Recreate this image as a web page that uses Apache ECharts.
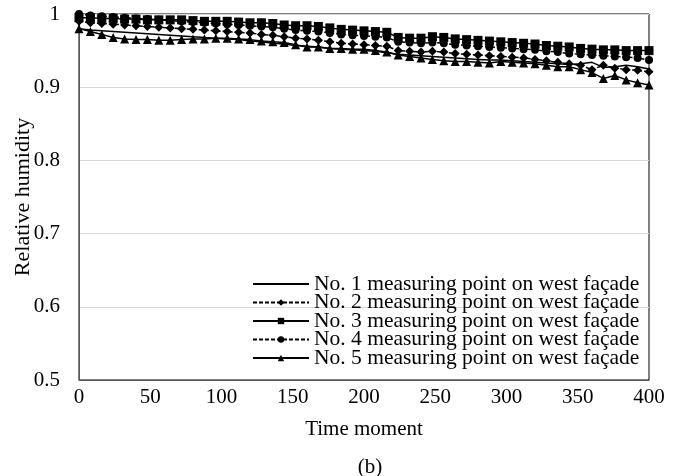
<!DOCTYPE html>
<html>
<head>
<meta charset="utf-8">
<script src="https://cdn.jsdelivr.net/npm/echarts@6/dist/echarts.min.js"></script>
<style>html,body{margin:0;padding:0;background:#fff;}#c{width:677px;height:476px;}</style>
</head>
<body>
<div id="c"></div>
<script>
const times = [0,8,16,24,32,40,48,56,64,72,80,88,96,104,112,120,128,136,144,152,160,168,176,184,192,200,208,216,224,232,240,248,256,264,272,280,288,296,304,312,320,328,336,344,352,360,368,376,384,392,400];
const point1 = [0.98,0.978,0.977,0.976,0.975,0.974,0.973,0.972,0.971,0.97,0.969,0.968,0.967,0.966,0.965,0.963,0.962,0.96,0.959,0.957,0.956,0.955,0.953,0.952,0.951,0.95,0.949,0.947,0.945,0.944,0.943,0.942,0.941,0.94,0.939,0.938,0.937,0.937,0.936,0.935,0.934,0.933,0.932,0.931,0.932,0.934,0.927,0.928,0.93,0.928,0.925];
const point2 = [0.99,0.988,0.987,0.986,0.985,0.984,0.983,0.982,0.981,0.98,0.979,0.978,0.977,0.976,0.975,0.974,0.972,0.971,0.969,0.967,0.966,0.964,0.962,0.96,0.959,0.958,0.957,0.956,0.95,0.949,0.948,0.949,0.948,0.946,0.945,0.944,0.943,0.942,0.941,0.94,0.938,0.936,0.934,0.932,0.93,0.924,0.93,0.926,0.924,0.923,0.921];
const point3 = [0.995,0.995,0.994,0.994,0.993,0.993,0.992,0.992,0.992,0.992,0.991,0.99,0.99,0.99,0.989,0.988,0.988,0.987,0.985,0.984,0.984,0.983,0.981,0.979,0.978,0.977,0.976,0.975,0.968,0.967,0.967,0.969,0.968,0.966,0.965,0.964,0.963,0.962,0.961,0.96,0.959,0.957,0.956,0.955,0.953,0.952,0.951,0.951,0.95,0.95,0.95];
const point4 = [1.0,0.998,0.997,0.996,0.995,0.994,0.993,0.992,0.991,0.99,0.989,0.988,0.987,0.986,0.985,0.984,0.983,0.982,0.98,0.978,0.977,0.976,0.974,0.972,0.971,0.97,0.969,0.968,0.962,0.961,0.96,0.961,0.96,0.958,0.957,0.956,0.955,0.954,0.953,0.952,0.951,0.949,0.948,0.946,0.945,0.944,0.943,0.942,0.941,0.94,0.937];
const point5 = [0.98,0.976,0.972,0.968,0.966,0.965,0.965,0.964,0.964,0.965,0.966,0.966,0.967,0.967,0.966,0.965,0.963,0.962,0.961,0.958,0.955,0.955,0.953,0.953,0.952,0.952,0.95,0.948,0.944,0.942,0.94,0.938,0.936,0.935,0.935,0.934,0.933,0.935,0.934,0.933,0.932,0.93,0.928,0.928,0.924,0.92,0.912,0.916,0.91,0.906,0.903];
const seriesNames = [
  'No. 1 measuring point on west façade',
  'No. 2 measuring point on west façade',
  'No. 3 measuring point on west façade',
  'No. 4 measuring point on west façade',
  'No. 5 measuring point on west façade'
];
const xTicks = [0,50,100,150,200,250,300,350,400];
const yTicks = [0.5,0.6,0.7,0.8,0.9,1];

const FONT = '"Liberation Serif","Times New Roman",serif';
const pair = arr => arr.map((v,i)=>[times[i], v]);
const styles = [
  {symbol:'none', size:0, dash:'solid'},
  {symbol:'diamond', size:9, dash:[4,2]},
  {symbol:'rect', size:9, dash:'solid'},
  {symbol:'circle', size:8, dash:[4,2]},
  {symbol:'triangle', size:9, dash:'solid'}
];
const dataSets = [point1, point2, point3, point4, point5];
const legendRowCenters = [284, 302.5, 321, 339.5, 358];

const legends = seriesNames.map((n,i)=>({
  orient:'horizontal', left:252, top: legendRowCenters[i] - 11,
  itemWidth:56, itemHeight:8, itemGap:0, padding:0,
  textStyle:{fontFamily:FONT, fontSize:21.5, color:'#000'},
  selectedMode:false,
  data:[ i === 0 ? {name:n, itemStyle:{opacity:0}} : {name:n} ]
}));

const chart = echarts.init(document.getElementById('c'), null, {renderer:'canvas'});
chart.setOption({
  backgroundColor:'#fff',
  animation:false,
  textStyle:{fontFamily:FONT, color:'#000'},
  title:{text:'(b)', left:365, top:452, textAlign:'center',
    textStyle:{fontFamily:FONT, fontSize:21, fontWeight:'normal', color:'#000'}},
  grid:{left:79, right:28, top:14, bottom:96, outerBoundsMode:'none', containLabel:false,
    show:true, borderColor:'#000', borderWidth:1, backgroundColor:'transparent'},
  legend: legends,
  xAxis:{
    type:'value', min:xTicks[0], max:xTicks[xTicks.length-1], interval:50,
    name:'Time moment', nameLocation:'middle', nameGap:39, nameMoveOverlap:false,
    nameTextStyle:{fontFamily:FONT, fontSize:21, color:'#000'},
    axisLine:{show:true, lineStyle:{color:'#5a5a5a', width:1}},
    axisTick:{show:false},
    axisLabel:{fontFamily:FONT, fontSize:21, color:'#000', margin:7},
    splitLine:{show:false}
  },
  yAxis:{
    type:'value', min:yTicks[0], max:yTicks[yTicks.length-1], interval:0.1,
    name:'Relative humidity', nameLocation:'middle', nameGap:45, nameMoveOverlap:false,
    nameTextStyle:{fontFamily:FONT, fontSize:22, color:'#000'},
    axisLine:{show:true, lineStyle:{color:'#5a5a5a', width:1}},
    axisTick:{show:false},
    axisLabel:{fontFamily:FONT, fontSize:21, color:'#000', margin:19,
      formatter: v => String(Math.round(v*10)/10)},
    splitLine:{show:true, lineStyle:{color:'#d9d9d9', width:1}}
  },
  series: dataSets.map((d,i)=>({
    name: seriesNames[i],
    type:'line',
    data: pair(d),
    symbol: styles[i].symbol,
    symbolSize: styles[i].size,
    showSymbol: styles[i].symbol !== 'none',
    itemStyle:{color:'#000'},
    lineStyle:{color:'#000', width:1.5, type:styles[i].dash},
    z: 3 + i
  }))
});
</script>
</body>
</html>
